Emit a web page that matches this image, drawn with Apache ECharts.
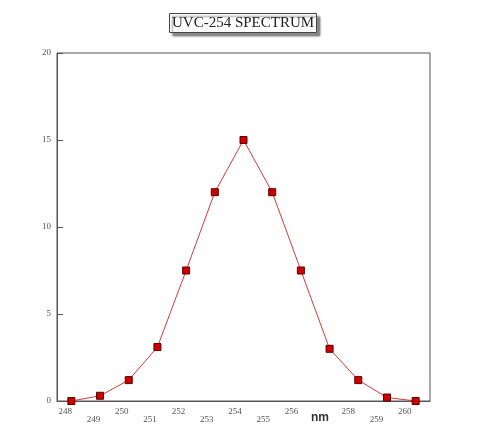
<!DOCTYPE html>
<html><head><meta charset="utf-8">
<script src="https://cdn.jsdelivr.net/npm/echarts@6/dist/echarts.min.js"></script>
<style>html,body{margin:0;padding:0;background:#fff}#c{width:480px;height:441px}</style>
</head><body><div id="c"></div>
<script>
const categories = ['248','249','250','251','252','253','254','255','256','257','258','259','260'];
const tickLabels = ['248','249','250','251','252','253','254','255','256','nm','258','259','260'];
const intensity = [0, 0.3, 1.2, 3.1, 7.5, 12, 15, 12, 7.5, 3, 1.2, 0.2, 0];
const yTicks = [0, 5, 10, 15, 20];

const chart = echarts.init(document.getElementById('c'), null, {renderer:'canvas'});
const serif = '"Liberation Serif","DejaVu Serif",serif';
chart.setOption({
  animation:false,
  backgroundColor:'#fff',
  title:{
    text:'UVC-254 SPECTRUM', left:169, top:13,
    padding:[3,3,2,3],
    borderColor:'#444', borderWidth:1, backgroundColor:'#fff',
    shadowColor:'rgba(0,0,0,0.45)', shadowOffsetX:3, shadowOffsetY:3, shadowBlur:2,
    textStyle:{fontFamily:serif, fontSize:15, fontWeight:'normal', color:'#222'}
  },
  grid:[
    {left:57, right:50, top:53, bottom:40, show:true, borderColor:'#555', borderWidth:1, containLabel:false},
    {left:51, width:368, top:53, bottom:40, show:false, containLabel:false}
  ],
  xAxis:[
    {type:'category', gridIndex:0, data:categories, boundaryGap:true,
     axisLine:{lineStyle:{color:'#555', width:1}},
     axisTick:{inside:true, alignWithLabel:true, length:5, lineStyle:{color:'#555'}},
     axisLabel:{show:false}, splitLine:{show:false}},
    {type:'category', gridIndex:1, data:tickLabels, boundaryGap:true,
     axisLine:{show:false}, axisTick:{show:false}, splitLine:{show:false},
     axisLabel:{interval:0, margin:6,
       formatter:function(v, i){ if(v==='nm') return '{n|nm}'; return (i%2===0?'{u|':'{d|')+v+'}'; },
       rich:{
         u:{fontFamily:serif, fontSize:9, color:'#555'},
         d:{fontFamily:serif, fontSize:9, color:'#555', padding:[8,0,0,0]},
         n:{fontFamily:'"Liberation Sans",Arial,sans-serif', fontSize:12, fontWeight:'bold', color:'#333', padding:[5,0,0,0]}
       }}}
  ],
  yAxis:[
    {type:'value', gridIndex:0, min:yTicks[0], max:yTicks[yTicks.length-1], interval:5,
     axisLine:{show:true, lineStyle:{color:'#555', width:1}},
     axisTick:{show:true, inside:true, length:6, lineStyle:{color:'#555'}},
     axisLabel:{fontFamily:serif, fontSize:9, color:'#555', margin:6},
     splitLine:{show:false}},
    {type:'value', gridIndex:1, show:false, min:0, max:20}
  ],
  series:[{
    type:'line', xAxisIndex:0, yAxisIndex:0, data:intensity,
    symbol:'rect', symbolSize:7,
    lineStyle:{color:'#d43a3a', width:1},
    itemStyle:{color:'#d00000', borderColor:'#5a0000', borderWidth:1},
    z:5
  }]
});
</script></body></html>
